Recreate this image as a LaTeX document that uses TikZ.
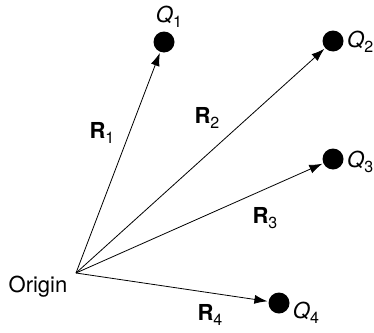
\documentclass[tikz,border=0pt]{standalone}
\usepackage{fontspec}
\setmainfont{TeX Gyre Heros}
\usepackage{tikz}
\usetikzlibrary{arrows.meta, positioning}
\newcommand{\lowidx}[1]{\raisebox{-0.45ex}{\fontsize{16}{16}\selectfont #1}}

\begin{document}
\begin{tikzpicture}[
		x=1pt, y=-1pt,
		>={Latex[length=13pt, width=9pt]},
		dot/.style={circle, fill=black, inner sep=0pt, minimum size=21pt},
		vec/.style={->, line width=0.8pt, shorten >=1pt},
		lbl/.style={font=\fontsize{22}{24}\selectfont, inner sep=0pt}
	]
	\useasboundingbox (0,0) rectangle (374,332);

	\coordinate (o) at (76,273);
	\node[dot] (q1) at (164,42) {};
	\node[dot] (q2) at (333,41) {};
	\node[dot] (q3) at (333,159) {};
	\node[dot] (q4) at (279,303) {};

	\draw[vec] (o) -- (q1);
	\draw[vec] (o) -- (q2);
	\draw[vec] (o) -- (q3);
	\draw[vec] (o) -- (q4);

	\node[lbl] (origin) at (38,287) {Origin};
	\node[lbl] (lq1) at (169,17) {\textit{Q}\lowidx{1}};
	\node[lbl, anchor=west] (lq2) at (347,42) {\textit{Q}\lowidx{2}};
	\node[lbl, anchor=west] (lq3) at (347,162) {\textit{Q}\lowidx{3}};
	\node[lbl] (lq4) at (306,313) {\textit{Q}\lowidx{4}};

	\node[lbl] (r1) at (102,133) {\textbf{R}\lowidx{1}};
	\node[lbl] (r2) at (207,118) {\textbf{R}\lowidx{2}};
	\node[lbl] (r3) at (265,218) {\textbf{R}\lowidx{3}};
	\node[lbl] (r4) at (210,315) {\textbf{R}\lowidx{4}};
\end{tikzpicture}
\end{document}
